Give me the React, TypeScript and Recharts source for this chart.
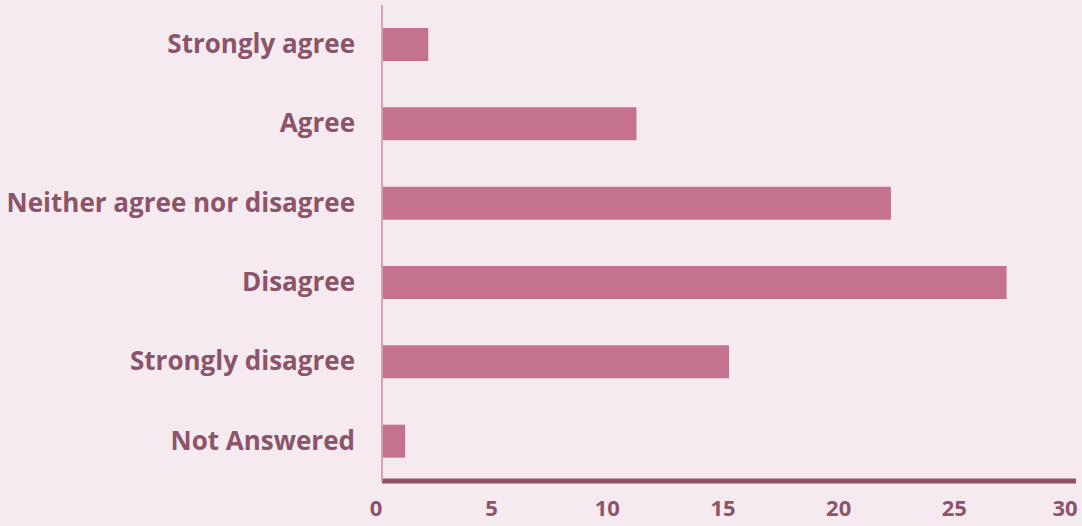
import { BarChart, Bar, XAxis, YAxis } from 'recharts';

const categories = [
  'Strongly agree',
  'Agree',
  'Neither agree nor disagree',
  'Disagree',
  'Strongly disagree',
  'Not Answered',
];
const counts = [2, 11, 22, 27, 15, 1];
const xTicks = [0, 5, 10, 15, 20, 25, 30];

const data = categories.map((c, i) => ({ category: c, count: counts[i] }));

const textColor = '#8b5468';
const font = '"Open Sans"';

export default function App() {
  return (
    <div style={{ width: 1082, height: 526, background: '#f5eaef' }}>
      <style>{'body{margin:0}'}</style>
      <BarChart
        width={1082}
        height={526}
        data={data}
        layout="vertical"
        margin={{ top: 5, right: 6, bottom: 0, left: 0 }}
      >
        <XAxis
          type="number"
          domain={[0, 30]}
          ticks={xTicks}
          height={45}
          tickLine={false}
          tickSize={0}
          tickMargin={19}
          axisLine={{ stroke: textColor, strokeWidth: 5 }}
          tick={{ fill: textColor, fontSize: 22, fontWeight: 700, fontFamily: font, dx: -6 }}
        />
        <YAxis
          type="category"
          dataKey="category"
          width={382}
          tickLine={false}
          tickSize={0}
          tickMargin={27}
          axisLine={{ stroke: '#d9a0b4', strokeWidth: 2 }}
          tick={{ fill: textColor, fontSize: 26, fontWeight: 700, fontFamily: font, dy: -1 }}
        />
        <Bar dataKey="count" fill="#c5728f" barSize={33} isAnimationActive={false} />
      </BarChart>
    </div>
  );
}
